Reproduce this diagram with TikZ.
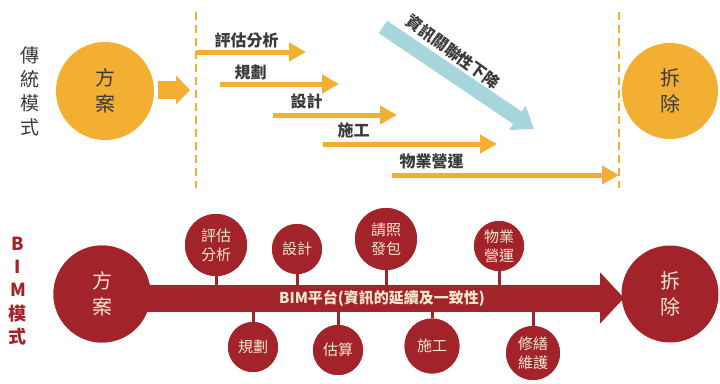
\documentclass[tikz,border=0pt]{standalone}
\usepackage{fontspec}
\setmainfont{Noto Sans CJK TC}
\usetikzlibrary{arrows.meta}
\definecolor{orng}{HTML}{F2AF32}
\definecolor{bimred}{HTML}{A3232A}
\definecolor{cream}{HTML}{F6E7D2}
\definecolor{txtgray}{HTML}{3A3A3A}
\definecolor{infoblue}{HTML}{A6D6DB}
\begin{document}
\begin{tikzpicture}[x=1pt,y=-1pt,
  bigorange/.style={circle,fill=orng,minimum size=98pt,inner sep=0pt,align=center,text=txtgray,font=\fontsize{20}{26}\selectfont},
  bigred/.style={circle,fill=bimred,minimum size=97pt,inner sep=0pt,align=center,text=cream,font=\fontsize{20}{26}\selectfont},
  smallred/.style={circle,fill=bimred,inner sep=0pt,align=center,text=cream,font=\fontsize{15}{19}\selectfont},
  phasearrow/.style={orng,line width=5pt,-{Triangle[length=17pt,width=18pt]}},
  phaselabel/.style={anchor=base west,text=txtgray,font=\fontsize{16}{18}\selectfont\bfseries},
  dashline/.style={orng,line width=2.2pt,dash pattern=on 8pt off 5pt},
  stem/.style={bimred,line width=3pt},
  sidelabel/.style={align=center,font=\fontsize{19}{24}\selectfont},
]
\useasboundingbox (0,0) rectangle (720,383);

% ---------- traditional ----------
\node[sidelabel,text=txtgray] (trad) at (30,91) {傳\\統\\模\\式};
\node[bigorange] (fa1) at (105,91) {方\\案};
\node[bigorange,minimum size=96pt] (cc1) at (670,91) {拆\\除};

\coordinate (d1t) at (196,12);
\coordinate (d1b) at (196,188);
\coordinate (d2t) at (619,12);
\coordinate (d2b) at (619,188);
\draw[dashline] (d1t) -- (d1b);
\draw[dashline] (d2t) -- (d2b);

\coordinate (fatend) at (190,90);
\draw[orng,line width=18pt,-{Triangle[length=14pt,width=28pt]}] (fa1.east) ++(4,-1) coordinate (fatstart) (fatstart) -- (fatend);

\coordinate (a1s) at (196,52);  \coordinate (a1e) at (306,52);
\coordinate (a2s) at (220,84);  \coordinate (a2e) at (339,84);
\coordinate (a3s) at (273,115); \coordinate (a3e) at (397,115);
\coordinate (a4s) at (323,144); \coordinate (a4e) at (497,144);
\coordinate (a5s) at (392,175); \coordinate (a5e) at (619,175);
\draw[phasearrow] (a1s) -- (a1e);
\draw[phasearrow] (a2s) -- (a2e);
\draw[phasearrow] (a3s) -- (a3e);
\draw[phasearrow] (a4s) -- (a4e);
\draw[phasearrow] (a5s) -- (a5e);
\node[phaselabel] (l1) at (211,46) {評估分析};
\node[phaselabel] (l2) at (231,78) {規劃};
\node[phaselabel] (l3) at (287,107) {設計};
\node[phaselabel] (l4) at (334,136) {施工};
\node[phaselabel] (l5) at (396,167) {物業營運};

\coordinate (bs) at (383,27);
\coordinate (be) at (534,129);
\draw[infoblue,line width=15pt,-{Triangle[length=20pt,width=28pt]}] (bs) -- (be);
\node[rotate=-36,text=txtgray,font=\fontsize{16}{18}\selectfont\bfseries] (bl) at (453,52) {資訊關聯性下降};

% ---------- BIM ----------
\node[sidelabel,text=bimred,font=\fontsize{18}{23.3}\selectfont\bfseries] (bim) at (18,291) {B\\I\\M\\模\\式};
\node[bigred] (fa2) at (102,294) {方\\案};
\node[bigred] (cc2) at (670,294) {拆\\除};

\coordinate (barend) at (624,298);
\coordinate (barstart) at (140,298);

\node[smallred,minimum size=62pt] (s1) at (216,245) {評估\\分析};
\node[smallred,minimum size=50pt] (s2) at (253,347) {規劃};
\node[smallred,minimum size=50pt] (s3) at (297,249) {設計};
\node[smallred,minimum size=50pt] (s4) at (338,350) {估算};
\node[smallred,minimum size=62pt] (s5) at (386,239) {請照\\發包};
\node[smallred,minimum size=55pt] (s6) at (432,346) {施工};
\node[smallred,minimum size=50pt] (s7) at (499,246) {物業\\營運};
\node[smallred,minimum size=54pt] (s8) at (533,353) {修繕\\維護};

\begin{scope}[on background layer/.try]
\end{scope}
\foreach \n in {s1,s2,s3,s4,s5,s6,s7,s8}{
  \draw[stem] (\n) -- (\n |- barstart);
}
\draw[bimred,line width=27pt,-{Triangle[length=24pt,width=50pt]}] (barstart) -- (barend);
\node[text=cream,font=\fontsize{15}{17}\selectfont\bfseries] (barlabel) at (382,298) {BIM平台(資訊的延續及一致性)};

% circles drawn again over their stems
\node[smallred,minimum size=62pt] at (s1) {評估\\分析};
\node[smallred,minimum size=50pt] at (s2) {規劃};
\node[smallred,minimum size=50pt] at (s3) {設計};
\node[smallred,minimum size=50pt] at (s4) {估算};
\node[smallred,minimum size=62pt] at (s5) {請照\\發包};
\node[smallred,minimum size=55pt] at (s6) {施工};
\node[smallred,minimum size=50pt] at (s7) {物業\\營運};
\node[smallred,minimum size=54pt] at (s8) {修繕\\維護};
\node[bigred] at (fa2) {方\\案};
\end{tikzpicture}
\end{document}
